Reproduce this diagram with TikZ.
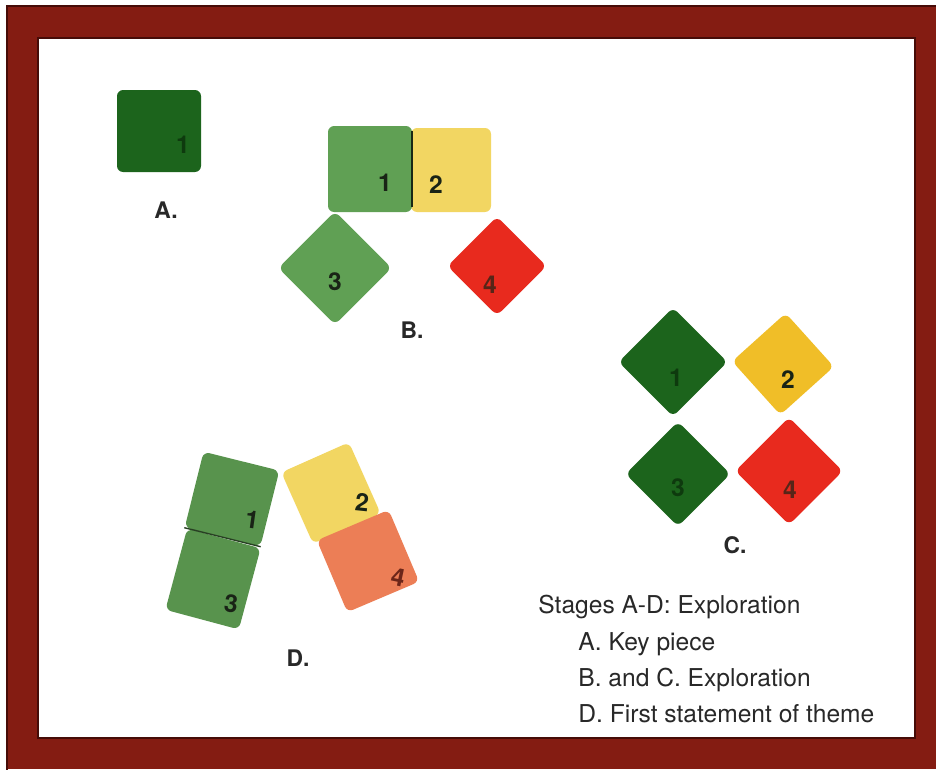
\documentclass[tikz,border=0pt]{standalone}
\usepackage{fontspec}
\setmainfont{TeX Gyre Heros}
\usetikzlibrary{positioning, calc}
\definecolor{FrameRed}{RGB}{132, 28, 18}
\definecolor{FrameDark}{RGB}{70, 12, 8}
\definecolor{DeepGreen}{RGB}{28, 100, 28}
\definecolor{LeafGreen}{RGB}{96, 160, 84}
\definecolor{PaleYellow}{RGB}{242, 214, 98}
\definecolor{Amber}{RGB}{240, 190, 40}
\definecolor{TileRed}{RGB}{232, 42, 30}
\definecolor{Salmon}{RGB}{236, 126, 86}
\definecolor{InkGray}{RGB}{40, 40, 40}
\definecolor{TileInk}{RGB}{25, 35, 22}
\definecolor{DarkInk}{RGB}{14, 58, 14}

\begin{document}
\begin{tikzpicture}[
    x=0.02cm, y=-0.02cm,
    tile/.style={rectangle, rounded corners=3.5pt, inner sep=0pt},
    num/.style={font=\fontsize{14}{14}\selectfont\bfseries, text=TileInk, inner sep=0pt},
    stage/.style={font=\fontsize{13}{13}\selectfont\bfseries, text=InkGray, inner sep=0pt},
    legend/.style={font=\fontsize{14}{14}\selectfont, text=InkGray, anchor=base west, inner sep=0pt}
]
    \useasboundingbox (0,0) rectangle (936,769);

    % Rahmen
    \fill[FrameRed] (7,6) rectangle (936,769);
    \draw[FrameDark, line width=1.2pt] (7,6) rectangle (940,775);
    \fill[white] (38,38) rectangle (915,738);
    \draw[FrameDark, line width=1.2pt] (38,38) rectangle (915,738);

    % A: Schluesselstueck
    \node[tile, fill=DeepGreen, minimum width=84*0.02cm, minimum height=82*0.02cm] (a1) at (159,131) {};
    \node[num, text=DarkInk] (na1) at (183,145) {1};
    \node[stage] (labA) at (166,210) {A.};

    % B
    \node[tile, fill=PaleYellow, minimum width=80*0.02cm, minimum height=84*0.02cm] (b2) at (451,170) {};
    \node[tile, fill=LeafGreen, minimum width=84*0.02cm, minimum height=86*0.02cm] (b1) at (370,169) {};
    \draw[black!75!LeafGreen, line width=1pt] ([yshift=-3pt]b1.north east) -- ([yshift=3pt]b1.south east);
    \node[tile, fill=LeafGreen, rotate=45, minimum width=80*0.02cm, minimum height=80*0.02cm] (b3) at (335,268) {};
    \node[tile, fill=TileRed, rotate=45, minimum width=70*0.02cm, minimum height=70*0.02cm] (b4) at (497,266) {};
    \node[num] (nb1) at (385,183) {1};
    \node[num] (nb2) at (436,185) {2};
    \node[num] (nb3) at (335,282) {3};
    \node[num, text=TileInk!70!TileRed] (nb4) at (490,285) {4};
    \node[stage] (labB) at (412,330) {B.};

    % C
    \node[tile, fill=DeepGreen, rotate=45, minimum width=77*0.02cm, minimum height=77*0.02cm] (c1) at (673,362) {};
    \node[tile, fill=Amber, rotate=42, minimum width=72*0.02cm, minimum height=72*0.02cm] (c2) at (783,364) {};
    \node[tile, fill=DeepGreen, rotate=45, minimum width=74*0.02cm, minimum height=74*0.02cm] (c3) at (678,474) {};
    \node[tile, fill=TileRed, rotate=45, minimum width=76*0.02cm, minimum height=76*0.02cm] (c4) at (789,471) {};
    \node[num, text=DarkInk] (nc1) at (676,378) {1};
    \node[num] (nc2) at (788,380) {2};
    \node[num, text=DarkInk] (nc3) at (678,488) {3};
    \node[num, text=TileInk!70!TileRed] (nc4) at (790,490) {4};
    \node[stage] (labC) at (735,545) {C.};

    % D: erste Aussage
    \node[tile, fill=LeafGreen!92!black, rotate=-14, minimum width=78*0.02cm, minimum height=78*0.02cm] (d1) at (232,499) {};
    \node[tile, fill=LeafGreen!92!black, rotate=-15, minimum width=76*0.02cm, minimum height=84*0.02cm] (d3) at (213,579) {};
    \draw[black!60!LeafGreen, line width=0.8pt] (d1.south west) -- (d1.south east);
    \node[tile, fill=PaleYellow, rotate=24, minimum width=74*0.02cm, minimum height=78*0.02cm] (d2) at (331,493) {};
    \node[tile, fill=Salmon, rotate=23, minimum width=78*0.02cm, minimum height=78*0.02cm] (d4) at (368,561) {};
    \node[num, rotate=-8] (nd1) at (252,520) {1};
    \node[num, rotate=-6] (nd2) at (362,502) {2};
    \node[num, rotate=-8] (nd3) at (231,604) {3};
    \node[num, rotate=-12, text=TileInk!60!TileRed] (nd4) at (398,577) {4};
    \node[stage] (labD) at (298,658) {D.};

    % Legende
    \node[legend] (leg0) at (538,613) {Stages A-D: Exploration};
    \node[legend] (leg1) at (578,650) {A. Key piece};
    \node[legend] (leg2) at (578,686) {B. and C. Exploration};
    \node[legend] (leg3) at (578,722) {D. First statement of theme};
\end{tikzpicture}
\end{document}
